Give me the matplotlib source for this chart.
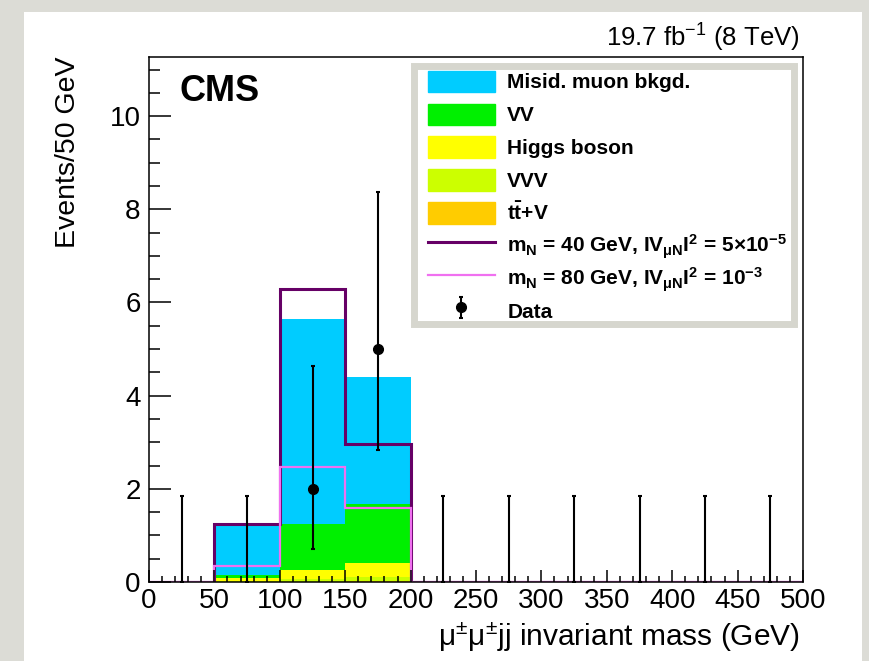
import numpy as np
import matplotlib
matplotlib.use('Agg')
import matplotlib.pyplot as plt
from matplotlib.patches import Rectangle, Patch
from matplotlib.lines import Line2D
from matplotlib.legend_handler import HandlerPatch

plt.rcParams['font.family'] = ['Liberation Sans Narrow', 'Liberation Sans', 'DejaVu Sans']
plt.rcParams['mathtext.fontset'] = 'custom'
plt.rcParams['mathtext.rm'] = 'Liberation Sans'
plt.rcParams['mathtext.it'] = 'Liberation Sans:italic'
plt.rcParams['mathtext.bf'] = 'Liberation Sans:bold'

# binning: 10 bins of 50 GeV
edges = np.arange(0, 550, 50)
centers = edges[:-1] + 25

# background stack, bottom to top
ttv = np.array([0, 0.00, 0.01, 0.02, 0, 0, 0, 0, 0, 0])
vvv = np.array([0, 0.02, 0.05, 0.08, 0, 0, 0, 0, 0, 0])
higgs = np.array([0, 0.06, 0.20, 0.31, 0, 0, 0, 0, 0, 0])
vv = np.array([0, 0.07, 0.99, 1.27, 0, 0, 0, 0, 0, 0])
misid = np.array([0, 1.11, 4.40, 2.71, 0, 0, 0, 0, 0, 0])

# heavy neutrino signals
sig40 = np.array([0, 1.24, 6.29, 2.96, 0, 0, 0, 0, 0, 0])
sig80 = np.array([0, 0.34, 2.47, 1.58, 0, 0, 0, 0, 0, 0])

# observed data with asymmetric poisson errors
data = np.array([0, 0, 2, 5, 0, 0, 0, 0, 0, 0])
err_lo = np.array([0, 0, 1.29, 2.16, 0, 0, 0, 0, 0, 0])
err_hi = np.array([1.84, 1.84, 2.64, 3.38, 1.84, 1.84, 1.84, 1.84, 1.84, 1.84])

stack = [
    (ttv, '#ffcc00', r't$\mathbf{\bar{t}}$+V'),
    (vvv, '#ccff00', 'VVV'),
    (higgs, '#ffff00', 'Higgs boson'),
    (vv, '#00f000', 'VV'),
    (misid, '#00ccff', 'Misid. muon bkgd.'),
]

c40 = '#660066'
c80 = '#f070f0'

fig = plt.figure(figsize=(8.69, 6.61), dpi=100)
fig.patch.set_facecolor('#dcdcd6')
# white page behind the plot
fig.add_artist(Rectangle((24/869, 0), 838/869, 1 - 12/661, transform=fig.transFigure,
                         facecolor='white', edgecolor='none', zorder=-5))

ax = fig.add_axes([149/869, 1 - 582/661, 654/869, 525/661])
ax.set_zorder(2)

base = np.zeros(len(centers))
for vals, col, lab in stack:
    ax.stairs(base + vals, edges, baseline=base, fill=True, color=col, lw=0)
    base = base + vals

ax.stairs(sig40, edges, baseline=0, color=c40, lw=2.2)
ax.stairs(sig80, edges, baseline=0, color=c80, lw=1.6)

zero = data == 0
ax.errorbar(centers[zero], data[zero], yerr=[err_lo[zero], err_hi[zero]], fmt='none',
            ecolor='black', elinewidth=1.5, capsize=1.5, capthick=1.5)
hdata = ax.errorbar(centers[~zero], data[~zero], yerr=[err_lo[~zero], err_hi[~zero]], fmt='o',
                    color='black', ms=7, elinewidth=1.5, capsize=1.5, capthick=1.5)

ax.set_xlim(0, 500)
ax.set_ylim(0, 11.27)
ax.set_xticks(np.arange(0, 550, 50))
ax.set_xticks(np.arange(0, 501, 10), minor=True)
ax.set_yticks(np.arange(0, 11, 2))
ax.set_yticks(np.arange(0, 11.3, 0.5), minor=True)
ax.tick_params(axis='both', which='both', direction='in', width=1.1, top=False, right=False)
ax.tick_params(axis='x', which='major', length=9, pad=4, labelsize=20)
ax.tick_params(axis='x', which='minor', length=4.3)
ax.tick_params(axis='y', which='major', length=15.6, pad=6, labelsize=20)
ax.tick_params(axis='y', which='minor', length=8)
for sp in ax.spines.values():
    sp.set_linewidth(1.1)

fig.text(81/869, 1 - 57/661, 'Events/50 GeV', rotation=90, ha='right', va='top', fontsize=20.5)
ax.set_xlabel(r'μ$^{\pm}$μ$^{\pm}$jj invariant mass (GeV)', fontsize=21.5, ha='right', x=1.0)
ax.xaxis.set_label_coords(0.995, -0.072)
fig.text(800/869, 1 - 47/661, r'19.7 fb$^{-1}$ (8 TeV)', ha='right', va='baseline', fontsize=18.5)
ax.text(0.047, (582 - 101)/525, 'CMS', transform=ax.transAxes, fontsize=26, fontweight='bold',
        va='baseline')

# legend frame
ax.add_patch(Rectangle(((414 - 149)/654, (582 - 324)/525), 380/654, 258/525, transform=ax.transAxes,
                       facecolor='white', edgecolor='#d6d6ce', lw=5, zorder=3))


def swatch(legend, orig_handle, xdescent, ydescent, width, height, fontsize):
    # filled box shorter than the legend row
    h = 0.7 * height
    return Rectangle((-xdescent, -ydescent + (height - h) / 2), width, h)


handles = [Patch(color=col) for vals, col, lab in stack[::-1]]
labels = [lab for vals, col, lab in stack[::-1]]
handles += [Line2D([], [], color=c40, lw=2.2), Line2D([], [], color=c80, lw=1.6), hdata]
labels += [r'm$_{\mathbf{N}}$ = 40 GeV, IV$_{\mathbf{μN}}$I$^{\mathbf{2}}$ = 5$\mathbf{\times}$10$^{\mathbf{-5}}$',
           r'm$_{\mathbf{N}}$ = 80 GeV, IV$_{\mathbf{μN}}$I$^{\mathbf{2}}$ = 10$^{\mathbf{-3}}$',
           'Data']
leg = ax.legend(handles, labels, loc='upper left', bbox_to_anchor=((428 - 149)/654, (582 - 66)/525),
                frameon=False, borderpad=0, borderaxespad=0, handlelength=3.2, handleheight=1.9,
                handletextpad=0.6, labelspacing=0.1, prop={'weight': 'bold', 'size': 15},
                handler_map={Patch: HandlerPatch(patch_func=swatch)})
leg.set_zorder(4)

fig.savefig('out.png', dpi=100)
